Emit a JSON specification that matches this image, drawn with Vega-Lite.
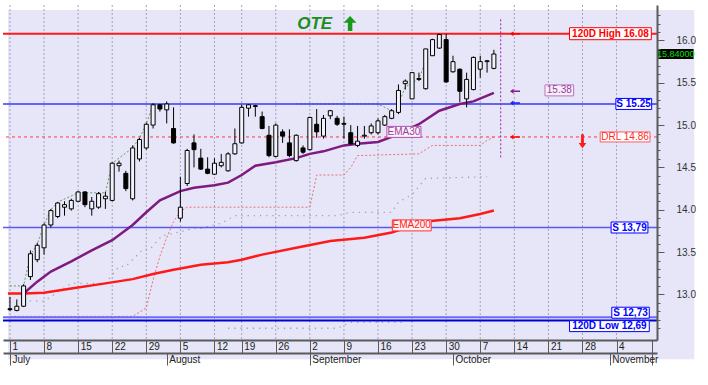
{
"$schema":"https://vega.github.io/schema/vega-lite/v6.json",
"width":654,"height":335,
"autosize":{"type":"none"},
"padding":{"left":3,"top":5,"right":51,"bottom":45},
"background":"#FFFFFF",
"config":{"view":{"stroke":null},"font":"Liberation Sans"},
"resolve":{"axis":{"x":"independent","y":"independent"}},
"datasets":{
"candles":[
{"i":0,"o":12.83,"h":12.97,"l":12.80,"c":12.82},{"i":1,"o":12.81,"h":12.94,"l":12.80,"c":12.86},{"i":2,"o":12.86,"h":13.12,"l":12.85,"c":13.10},{"i":3,"o":13.21,"h":13.52,"l":13.17,"c":13.48},{"i":4,"o":13.41,"h":13.61,"l":13.38,"c":13.58},{"i":5,"o":13.55,"h":13.84,"l":13.47,"c":13.82},{"i":6,"o":13.82,"h":14.01,"l":13.79,"c":13.99},{"i":7,"o":13.92,"h":14.09,"l":13.90,"c":14.08},{"i":8,"o":14.03,"h":14.10,"l":13.93,"c":14.06},{"i":9,"o":14.01,"h":14.13,"l":13.99,"c":14.11},
{"i":10,"o":14.10,"h":14.22,"l":14.09,"c":14.21},{"i":11,"o":14.21,"h":14.22,"l":14.03,"c":14.06},{"i":12,"o":14.01,"h":14.15,"l":13.93,"c":14.10},{"i":13,"o":14.03,"h":14.21,"l":14.01,"c":14.19},{"i":14,"o":14.13,"h":14.21,"l":14.01,"c":14.16},{"i":15,"o":14.11,"h":14.56,"l":14.10,"c":14.55},{"i":16,"o":14.52,"h":14.58,"l":14.45,"c":14.55},{"i":17,"o":14.43,"h":14.46,"l":14.22,"c":14.25},{"i":18,"o":14.13,"h":14.76,"l":14.11,"c":14.73},{"i":19,"o":14.60,"h":14.85,"l":14.57,"c":14.83},
{"i":20,"o":14.73,"h":15.03,"l":14.71,"c":15.01},{"i":21,"o":15.00,"h":15.26,"l":14.96,"c":15.24},{"i":22,"o":15.24,"h":15.25,"l":15.16,"c":15.19},{"i":23,"o":15.18,"h":15.28,"l":15.02,"c":15.25},{"i":24,"o":14.96,"h":15.21,"l":14.78,"c":14.79},{"i":25,"o":13.90,"h":14.39,"l":13.86,"c":14.03},{"i":26,"o":14.31,"h":14.72,"l":14.28,"c":14.70},{"i":27,"o":14.79,"h":14.89,"l":14.50,"c":14.71},{"i":28,"o":14.61,"h":14.72,"l":14.47,"c":14.48},{"i":29,"o":14.48,"h":14.62,"l":14.42,"c":14.43},
{"i":30,"o":14.42,"h":14.61,"l":14.41,"c":14.55},{"i":31,"o":14.52,"h":14.66,"l":14.50,"c":14.56},{"i":32,"o":14.46,"h":14.68,"l":14.45,"c":14.66},{"i":33,"o":14.66,"h":14.96,"l":14.65,"c":14.78},{"i":34,"o":14.79,"h":15.24,"l":14.78,"c":15.21},{"i":35,"o":15.20,"h":15.25,"l":15.10,"c":15.24},{"i":36,"o":15.22,"h":15.24,"l":15.10,"c":15.23},{"i":37,"o":15.10,"h":15.16,"l":14.95,"c":14.96},{"i":38,"o":14.88,"h":14.99,"l":14.62,"c":14.64},{"i":39,"o":14.63,"h":15.02,"l":14.62,"c":15.00},
{"i":40,"o":14.92,"h":14.95,"l":14.79,"c":14.87},{"i":41,"o":14.79,"h":14.95,"l":14.62,"c":14.64},{"i":42,"o":14.58,"h":14.89,"l":14.57,"c":14.88},{"i":43,"o":14.73,"h":14.76,"l":14.66,"c":14.68},{"i":44,"o":14.71,"h":15.10,"l":14.70,"c":15.09},{"i":45,"o":15.01,"h":15.19,"l":14.85,"c":14.92},{"i":46,"o":14.87,"h":15.12,"l":14.84,"c":15.08},{"i":47,"o":15.11,"h":15.18,"l":15.07,"c":15.17},{"i":48,"o":15.08,"h":15.11,"l":14.99,"c":15.01},{"i":49,"o":15.02,"h":15.10,"l":14.84,"c":15.01},
{"i":50,"o":14.91,"h":15.00,"l":14.77,"c":14.78},{"i":51,"o":14.76,"h":14.99,"l":14.74,"c":14.81},{"i":52,"o":14.87,"h":14.99,"l":14.84,"c":14.88},{"i":53,"o":14.91,"h":15.02,"l":14.89,"c":14.99},{"i":54,"o":14.91,"h":15.08,"l":14.89,"c":15.05},{"i":55,"o":15.00,"h":15.12,"l":14.99,"c":15.10},{"i":56,"o":15.08,"h":15.19,"l":15.07,"c":15.17},{"i":57,"o":15.15,"h":15.48,"l":15.13,"c":15.41},{"i":58,"o":15.49,"h":15.54,"l":15.42,"c":15.52},{"i":59,"o":15.31,"h":15.62,"l":15.31,"c":15.62},
{"i":60,"o":15.54,"h":15.62,"l":15.52,"c":15.55},{"i":61,"o":15.43,"h":15.90,"l":15.42,"c":15.90},{"i":62,"o":15.82,"h":16.02,"l":15.82,"c":16.01},{"i":63,"o":15.91,"h":16.08,"l":15.90,"c":16.07},{"i":64,"o":16.01,"h":16.08,"l":15.50,"c":15.51},{"i":65,"o":15.63,"h":15.82,"l":15.62,"c":15.75},{"i":66,"o":15.66,"h":15.67,"l":15.27,"c":15.40},{"i":67,"o":15.31,"h":15.62,"l":15.21,"c":15.54},{"i":68,"o":15.42,"h":15.81,"l":15.41,"c":15.80},{"i":69,"o":15.66,"h":15.82,"l":15.56,"c":15.75},
{"i":70,"o":15.75,"h":15.77,"l":15.62,"c":15.76},{"i":71,"o":15.67,"h":15.89,"l":15.66,"c":15.84}
],
"ema30":[{"i":2,"v":13.01},{"i":4,"v":13.15},{"i":6,"v":13.27},{"i":9,"v":13.39},{"i":12,"v":13.52},{"i":15,"v":13.64},{"i":18,"v":13.82},{"i":20,"v":13.97},{"i":22,"v":14.11},{"i":25,"v":14.22},{"i":27,"v":14.26},{"i":30,"v":14.29},{"i":32,"v":14.32},{"i":34,"v":14.41},{"i":36,"v":14.52},{"i":39,"v":14.56},{"i":42,"v":14.61},{"i":44,"v":14.66},{"i":46,"v":14.69},{"i":49,"v":14.76},{"i":51,"v":14.78},{"i":54,"v":14.80},{"i":56,"v":14.86},{"i":60,"v":15.01},{"i":63,"v":15.17},{"i":66,"v":15.25},{"i":68,"v":15.28},{"i":71,"v":15.38}],
"ema200":[{"i":-0.29,"v":13.01},{"i":2,"v":13.01},{"i":5,"v":13.02},{"i":9,"v":13.07},{"i":14,"v":13.13},{"i":18,"v":13.18},{"i":21,"v":13.24},{"i":24,"v":13.29},{"i":28,"v":13.35},{"i":32,"v":13.38},{"i":34,"v":13.41},{"i":37,"v":13.47},{"i":42,"v":13.55},{"i":47,"v":13.63},{"i":52,"v":13.67},{"i":56,"v":13.73},{"i":61,"v":13.86},{"i":66,"v":13.90},{"i":69,"v":13.95},{"i":71,"v":13.99}],
"trails":[
{"s":"gray","seg":1,"i":2,"v":12.92},{"s":"gray","seg":1,"i":5,"v":12.92},{"s":"gray","seg":1,"i":9,"v":13.13},{"s":"gray","seg":1,"i":14,"v":13.13},{"s":"gray","seg":1,"i":16,"v":13.33},{"s":"gray","seg":1,"i":17,"v":13.33},{"s":"gray","seg":1,"i":19.5,"v":13.53},{"s":"gray","seg":1,"i":20.5,"v":13.53},{"s":"gray","seg":1,"i":22.4,"v":13.70},{"s":"gray","seg":1,"i":23,"v":13.70},{"s":"gray","seg":1,"i":27,"v":13.78},{"s":"gray","seg":1,"i":28,"v":13.78},{"s":"gray","seg":1,"i":31,"v":13.84},{"s":"gray","seg":1,"i":33,"v":13.93},{"s":"gray","seg":1,"i":48,"v":13.93},{"s":"gray","seg":1,"i":50,"v":13.97},{"s":"gray","seg":1,"i":56,"v":13.97},{"s":"gray","seg":1,"i":57,"v":14.09},{"s":"gray","seg":1,"i":59,"v":14.18},{"s":"gray","seg":1,"i":61,"v":14.37},{"s":"gray","seg":1,"i":70,"v":14.39},
{"s":"gray","seg":2,"i":32,"v":12.60},{"s":"gray","seg":2,"i":48,"v":12.60},{"s":"gray","seg":2,"i":50,"v":12.67},{"s":"gray","seg":2,"i":58,"v":12.67},
{"s":"red","seg":1,"i":0,"v":12.74},{"s":"red","seg":1,"i":18,"v":12.74},{"s":"red","seg":1,"i":20,"v":12.84},{"s":"red","seg":1,"i":21,"v":13.17},{"s":"red","seg":1,"i":22,"v":13.45},{"s":"red","seg":1,"i":23,"v":13.67},{"s":"red","seg":1,"i":24,"v":13.86},{"s":"red","seg":1,"i":25,"v":13.98},{"s":"red","seg":1,"i":26,"v":14.03},{"s":"red","seg":1,"i":44,"v":14.03},{"s":"red","seg":1,"i":45,"v":14.41},{"s":"red","seg":1,"i":49,"v":14.41},{"s":"red","seg":1,"i":50,"v":14.50},{"s":"red","seg":1,"i":51,"v":14.64},{"s":"red","seg":1,"i":60,"v":14.66},{"s":"red","seg":1,"i":62,"v":14.76},{"s":"red","seg":1,"i":69,"v":14.76},{"s":"red","seg":1,"i":70,"v":14.82},{"s":"red","seg":1,"i":71,"v":14.86},
{"s":"green","seg":1,"i":0,"v":13.10},{"s":"green","seg":1,"i":2,"v":13.10},{"s":"green","seg":1,"i":3,"v":13.47},{"s":"green","seg":1,"i":4,"v":13.59},{"s":"green","seg":1,"i":5,"v":13.82},{"s":"green","seg":1,"i":6,"v":14.00},{"s":"green","seg":1,"i":7,"v":14.09},{"s":"green","seg":1,"i":10,"v":14.20},{"s":"green","seg":1,"i":14,"v":14.20},{"s":"green","seg":1,"i":15,"v":14.55},{"s":"green","seg":1,"i":18,"v":14.73},{"s":"green","seg":1,"i":19,"v":14.85},{"s":"green","seg":1,"i":20,"v":15.01},{"s":"green","seg":1,"i":21,"v":15.24},{"s":"green","seg":1,"i":23,"v":15.25},
{"s":"green","seg":2,"i":42,"v":15.25},{"s":"green","seg":2,"i":54,"v":15.25},{"s":"green","seg":2,"i":56,"v":15.17},
{"s":"green","seg":3,"i":57,"v":15.25},{"s":"green","seg":3,"i":58,"v":15.45},{"s":"green","seg":3,"i":60,"v":15.55},{"s":"green","seg":3,"i":61,"v":15.75}
],
"weeks":[{"i":0},{"i":5},{"i":10},{"i":15},{"i":20},{"i":25},{"i":30},{"i":34},{"i":39},{"i":44},{"i":49},{"i":54},{"i":59},{"i":64},{"i":69},{"i":74},{"i":79},{"i":84},{"i":89}],
"levels":[{"key":"high","v":16.08,"label":"120D High 16.08"},{"key":"s1","v":15.25,"label":"S 15.25"},{"key":"drl","v":14.86,"label":"DRL 14.86"},{"key":"s2","v":13.79,"label":"S 13,79"},{"key":"s3","v":12.73,"label":"S 12,73"},{"key":"low","v":12.69,"label":"120D Low 12,69"}],
"notes":[{"key":"ema30","text":"EMA30","i":57.8,"v":14.92},{"key":"ema200","text":"EMA200","i":58.95,"v":13.815},{"key":"last30","text":"15.38","i":80.6,"v":15.41},{"key":"ote","text":"OTE","i":44.7,"v":16.2}],
"arrows":[{"k":"up","i":49.9,"v":16.2},{"k":"lhigh","i":74.1,"v":16.08},{"k":"lema","i":74.1,"v":15.4},{"k":"ls","i":74.1,"v":15.26},{"k":"ldrl","i":74.1,"v":14.86},{"k":"down","i":84.0,"v":14.81}],
"cursor":[{"i":72,"top":16.25,"bottom":14.61}],
"last":[{"price":15.84,"text":"15.84000"}]
},
"layer":[
{"data":{"name":"cursor"},"mark":{"type":"rect","fill":"#E6E6F8","clip":false},
 "encoding":{"x":{"datum":-0.29,"type":"quantitative","scale":{"domain":[-0.29,94.2],"nice":false,"zero":false},"axis":null},"x2":{"datum":100.4},"y":{"datum":16.36,"type":"quantitative","scale":{"domain":[12.52,16.36],"nice":false,"zero":false},"axis":null},"y2":{"datum":12.233}}},
{"data":{"name":"weeks"},"mark":{"type":"rule","color":"#A4A4B8","strokeDash":[2,2],"strokeWidth":1},
 "encoding":{"x":{"field":"i","type":"quantitative","scale":{"domain":[-0.29,94.2],"nice":false,"zero":false},"axis":null}}},
{"data":{"name":"trails"},"layer":[
 {"transform":[{"filter":"datum.s==='gray'"}],"mark":{"type":"line","color":"#9C9CB8","strokeDash":[1.2,5],"strokeWidth":1.3},
  "encoding":{"x":{"field":"i","type":"quantitative","scale":{"domain":[-0.29,94.2],"nice":false,"zero":false},"axis":null},"y":{"field":"v","type":"quantitative","scale":{"domain":[12.52,16.36],"nice":false,"zero":false},"axis":null},"detail":{"field":"seg"}}},
 {"transform":[{"filter":"datum.s==='red'"}],"mark":{"type":"line","color":"#EE6E6E","strokeDash":[2,2],"strokeWidth":1},
  "encoding":{"x":{"field":"i","type":"quantitative","scale":{"domain":[-0.29,94.2],"nice":false,"zero":false},"axis":null},"y":{"field":"v","type":"quantitative","scale":{"domain":[12.52,16.36],"nice":false,"zero":false},"axis":null},"detail":{"field":"seg"}}},
 {"transform":[{"filter":"datum.s==='green'"}],"mark":{"type":"line","color":"#5E9E5E","strokeDash":[2,2],"strokeWidth":1},
  "encoding":{"x":{"field":"i","type":"quantitative","scale":{"domain":[-0.29,94.2],"nice":false,"zero":false},"axis":null},"y":{"field":"v","type":"quantitative","scale":{"domain":[12.52,16.36],"nice":false,"zero":false},"axis":null},"detail":{"field":"seg"}}}
]},
{"data":{"name":"levels"},"layer":[
 {"transform":[{"filter":"datum.key==='high'"}],"mark":{"type":"rule","color":"#FF1A1A","strokeWidth":2},"encoding":{"y":{"field":"v","type":"quantitative","scale":{"domain":[12.52,16.36],"nice":false,"zero":false},"axis":null}}},
 {"transform":[{"filter":"datum.key==='s1'"}],"mark":{"type":"rule","color":"#3A3AF0","strokeWidth":1.5},"encoding":{"y":{"field":"v","type":"quantitative","scale":{"domain":[12.52,16.36],"nice":false,"zero":false},"axis":null}}},
 {"transform":[{"filter":"datum.key==='drl'"}],"mark":{"type":"rule","color":"#FF3B3B","strokeWidth":1,"strokeDash":[3,3]},"encoding":{"y":{"field":"v","type":"quantitative","scale":{"domain":[12.52,16.36],"nice":false,"zero":false},"axis":null}}},
 {"transform":[{"filter":"datum.key==='s2'"}],"mark":{"type":"rule","color":"#5A5AF0","strokeWidth":1.5},"encoding":{"y":{"field":"v","type":"quantitative","scale":{"domain":[12.52,16.36],"nice":false,"zero":false},"axis":null}}},
 {"transform":[{"filter":"datum.key==='s3'"}],"mark":{"type":"rule","color":"#6A6AFF","strokeWidth":2},"encoding":{"y":{"field":"v","type":"quantitative","scale":{"domain":[12.52,16.36],"nice":false,"zero":false},"axis":null}}},
 {"transform":[{"filter":"datum.key==='low'"}],"mark":{"type":"rule","color":"#0000CC","strokeWidth":2},"encoding":{"y":{"field":"v","type":"quantitative","scale":{"domain":[12.52,16.36],"nice":false,"zero":false},"axis":null}}}
]},
{"data":{"name":"ema200"},"mark":{"type":"line","color":"#FF1A1A","strokeWidth":2.5},
 "encoding":{"x":{"field":"i","type":"quantitative","scale":{"domain":[-0.29,94.2],"nice":false,"zero":false},
  "axis":{"orient":"bottom","offset":13,"values":[0,23,44,65,88,94.2],"labelExpr":"['July','August','September','October','November',''][indexof([0,23,44,65,88,94.2],datum.value)]","title":null,"grid":false,"domainColor":"#5A5A5A","domainWidth":2,"tickColor":"#5A5A5A","tickWidth":1,"tickSize":12,"labelAlign":"left","labelBaseline":"top","labelPadding":-11,"labelOffset":2,"labelFont":"Liberation Sans","labelFontSize":10,"labelColor":"#222222","labelFlush":false,"labelOverlap":false,"labelBound":false,"zindex":1}},
  "y":{"field":"v","type":"quantitative","scale":{"domain":[12.52,16.36],"nice":false,"zero":false},"axis":null}}},
{"data":{"name":"ema30"},"mark":{"type":"line","color":"#7E1A80","strokeWidth":2.5},
 "encoding":{"x":{"field":"i","type":"quantitative","scale":{"domain":[-0.29,94.2],"nice":false,"zero":false},"axis":null},"y":{"field":"v","type":"quantitative","scale":{"domain":[12.52,16.36],"nice":false,"zero":false},"axis":null}}},
{"data":{"name":"cursor"},"mark":{"type":"rule","color":"#A020A0","strokeDash":[2,2],"strokeWidth":1},
 "encoding":{"x":{"field":"i","type":"quantitative","scale":{"domain":[-0.29,94.2],"nice":false,"zero":false},"axis":null},"y":{"field":"top","type":"quantitative","scale":{"domain":[12.52,16.36],"nice":false,"zero":false},"axis":null},"y2":{"field":"bottom"}}},
{"data":{"name":"candles"},"mark":{"type":"rule","color":"#000000","strokeWidth":1},
 "encoding":{"x":{"field":"i","type":"quantitative","scale":{"domain":[-0.29,94.2],"nice":false,"zero":false},"axis":null},"y":{"field":"l","type":"quantitative","scale":{"domain":[12.52,16.36],"nice":false,"zero":false},"axis":null},"y2":{"field":"h"}}},
{"data":{"name":"candles"},"mark":{"type":"bar","size":4,"stroke":"#000000","strokeWidth":1},
 "encoding":{"x":{"field":"i","type":"quantitative","scale":{"domain":[-0.29,94.2],"nice":false,"zero":false},
  "axis":{"orient":"bottom","values":[0,5,10,15,20,25,30,34,39,44,49,54,59,64,69,74,79,84,89,94.2],"labelExpr":"['1','8','15','22','29','5','12','19','26','2','9','16','23','30','7','14','21','28','4',''][indexof([0,5,10,15,20,25,30,34,39,44,49,54,59,64,69,74,79,84,89,94.2],datum.value)]","title":null,"grid":false,"domainColor":"#5A5A5A","domainWidth":2,"tickColor":"#5A5A5A","tickWidth":1,"tickSize":13,"labelAlign":"left","labelBaseline":"top","labelPadding":-12,"labelOffset":2,"labelFont":"Liberation Sans","labelFontSize":10,"labelColor":"#222222","labelFlush":false,"labelOverlap":false,"labelBound":false,"zindex":1}},
  "y":{"field":"o","type":"quantitative","scale":{"domain":[12.52,16.36],"nice":false,"zero":false},
  "axis":{"orient":"right","values":[12.6,12.7,12.8,12.9,13,13.1,13.2,13.3,13.4,13.5,13.6,13.7,13.8,13.9,14,14.1,14.2,14.3,14.4,14.5,14.6,14.7,14.8,14.9,15,15.1,15.2,15.3,15.4,15.5,15.6,15.7,15.8,15.9,16,16.1,16.2,16.3],"labelExpr":"abs(datum.value*2-round(datum.value*2))<0.01 ? format(datum.value,'.1f') : ''","title":null,"grid":false,"domainColor":"#5A5A5A","domainWidth":2,"tickColor":"#5A5A5A","tickWidth":1,"tickSize":{"condition":{"test":"abs(datum.value*2-round(datum.value*2))<0.01","value":7},"value":3},"labelPadding":12,"labelFont":"Liberation Sans","labelFontSize":10,"labelColor":"#333333","labelOverlap":false,"labelFlush":false,"zindex":1}},
  "y2":{"field":"c"},
  "fill":{"condition":{"test":"datum.c>=datum.o","value":"#F2F2FC"},"value":"#000000"}}},
{"data":{"name":"levels"},"layer":[
 {"transform":[{"filter":"datum.key==='high'"}],"layer":[
  {"mark":{"type":"bar","size":12,"fill":"#FFFFFF","stroke":"#FF0000","strokeWidth":1,"clip":false},"encoding":{"x":{"datum":82.1,"type":"quantitative","scale":{"domain":[-0.29,94.2],"nice":false,"zero":false},"axis":null},"x2":{"datum":94.1},"y":{"field":"v","type":"quantitative","scale":{"domain":[12.52,16.36],"nice":false,"zero":false},"axis":null}}},
  {"mark":{"type":"text","font":"Liberation Sans","fontSize":10,"fontWeight":"bold","color":"#FF0000","align":"center","baseline":"middle"},"encoding":{"x":{"datum":88.1,"type":"quantitative","scale":{"domain":[-0.29,94.2],"nice":false,"zero":false},"axis":null},"y":{"field":"v","type":"quantitative","scale":{"domain":[12.52,16.36],"nice":false,"zero":false},"axis":null},"text":{"field":"label"}}}]},
 {"transform":[{"filter":"datum.key==='s1'"}],"layer":[
  {"mark":{"type":"bar","size":11,"fill":"#FFFFFF","stroke":"#0000FF","strokeWidth":1,"clip":false},"encoding":{"x":{"datum":88.9,"type":"quantitative","scale":{"domain":[-0.29,94.2],"nice":false,"zero":false},"axis":null},"x2":{"datum":94.15},"y":{"field":"v","type":"quantitative","scale":{"domain":[12.52,16.36],"nice":false,"zero":false},"axis":null}}},
  {"mark":{"type":"text","font":"Liberation Sans","fontSize":10,"fontWeight":"bold","color":"#0000FF","align":"center","baseline":"middle"},"encoding":{"x":{"datum":91.5,"type":"quantitative","scale":{"domain":[-0.29,94.2],"nice":false,"zero":false},"axis":null},"y":{"field":"v","type":"quantitative","scale":{"domain":[12.52,16.36],"nice":false,"zero":false},"axis":null},"text":{"field":"label"}}}]},
 {"transform":[{"filter":"datum.key==='drl'"}],"layer":[
  {"mark":{"type":"bar","size":10,"fill":"#FFFFFF","stroke":"#FF5A5A","strokeWidth":1,"clip":false},"encoding":{"x":{"datum":86.6,"type":"quantitative","scale":{"domain":[-0.29,94.2],"nice":false,"zero":false},"axis":null},"x2":{"datum":93.9},"y":{"field":"v","type":"quantitative","scale":{"domain":[12.52,16.36],"nice":false,"zero":false},"axis":null}}},
  {"mark":{"type":"text","font":"Liberation Sans","fontSize":10,"color":"#FF2A2A","align":"center","baseline":"middle"},"encoding":{"x":{"datum":90.25,"type":"quantitative","scale":{"domain":[-0.29,94.2],"nice":false,"zero":false},"axis":null},"y":{"field":"v","type":"quantitative","scale":{"domain":[12.52,16.36],"nice":false,"zero":false},"axis":null},"text":{"field":"label"}}}]},
 {"transform":[{"filter":"datum.key==='s2'"}],"layer":[
  {"mark":{"type":"bar","size":11,"fill":"#FFFFFF","stroke":"#0000FF","strokeWidth":1,"clip":false},"encoding":{"x":{"datum":88.2,"type":"quantitative","scale":{"domain":[-0.29,94.2],"nice":false,"zero":false},"axis":null},"x2":{"datum":93.6},"y":{"field":"v","type":"quantitative","scale":{"domain":[12.52,16.36],"nice":false,"zero":false},"axis":null}}},
  {"mark":{"type":"text","font":"Liberation Sans","fontSize":10,"fontWeight":"bold","color":"#0000FF","align":"center","baseline":"middle"},"encoding":{"x":{"datum":90.9,"type":"quantitative","scale":{"domain":[-0.29,94.2],"nice":false,"zero":false},"axis":null},"y":{"field":"v","type":"quantitative","scale":{"domain":[12.52,16.36],"nice":false,"zero":false},"axis":null},"text":{"field":"label"}}}]},
 {"transform":[{"filter":"datum.key==='s3'"}],"layer":[
  {"mark":{"type":"bar","size":11,"fill":"#FFFFFF","stroke":"#0000FF","strokeWidth":1,"clip":false,"yOffset":-4.5},"encoding":{"x":{"datum":88.3,"type":"quantitative","scale":{"domain":[-0.29,94.2],"nice":false,"zero":false},"axis":null},"x2":{"datum":93.8},"y":{"field":"v","type":"quantitative","scale":{"domain":[12.52,16.36],"nice":false,"zero":false},"axis":null}}},
  {"mark":{"type":"text","font":"Liberation Sans","fontSize":10,"fontWeight":"bold","color":"#0000FF","align":"center","baseline":"middle","dy":-4.5},"encoding":{"x":{"datum":91.05,"type":"quantitative","scale":{"domain":[-0.29,94.2],"nice":false,"zero":false},"axis":null},"y":{"field":"v","type":"quantitative","scale":{"domain":[12.52,16.36],"nice":false,"zero":false},"axis":null},"text":{"field":"label"}}}]},
 {"transform":[{"filter":"datum.key==='low'"}],"layer":[
  {"mark":{"type":"bar","size":11,"fill":"#FFFFFF","stroke":"#0000FF","strokeWidth":1,"clip":false,"yOffset":5.5},"encoding":{"x":{"datum":82.1,"type":"quantitative","scale":{"domain":[-0.29,94.2],"nice":false,"zero":false},"axis":null},"x2":{"datum":93.8},"y":{"field":"v","type":"quantitative","scale":{"domain":[12.52,16.36],"nice":false,"zero":false},"axis":null}}},
  {"mark":{"type":"text","font":"Liberation Sans","fontSize":10,"fontWeight":"bold","color":"#0000FF","align":"center","baseline":"middle","dy":5.5},"encoding":{"x":{"datum":87.95,"type":"quantitative","scale":{"domain":[-0.29,94.2],"nice":false,"zero":false},"axis":null},"y":{"field":"v","type":"quantitative","scale":{"domain":[12.52,16.36],"nice":false,"zero":false},"axis":null},"text":{"field":"label"}}}]}
]},
{"data":{"name":"notes"},"layer":[
 {"transform":[{"filter":"datum.key==='ema30'"}],"layer":[
  {"mark":{"type":"bar","size":11,"fill":"#FAF4FA","stroke":"#B050B0","strokeWidth":1},"encoding":{"x":{"datum":55.3,"type":"quantitative","scale":{"domain":[-0.29,94.2],"nice":false,"zero":false},"axis":null},"x2":{"datum":60.3},"y":{"field":"v","type":"quantitative","scale":{"domain":[12.52,16.36],"nice":false,"zero":false},"axis":null}}},
  {"mark":{"type":"text","font":"Liberation Sans","fontSize":10,"color":"#A03AA0","align":"center","baseline":"middle"},"encoding":{"x":{"field":"i","type":"quantitative","scale":{"domain":[-0.29,94.2],"nice":false,"zero":false},"axis":null},"y":{"field":"v","type":"quantitative","scale":{"domain":[12.52,16.36],"nice":false,"zero":false},"axis":null},"text":{"field":"text"}}}]},
 {"transform":[{"filter":"datum.key==='ema200'"}],"layer":[
  {"mark":{"type":"bar","size":11,"fill":"#FFF4F4","stroke":"#FF3030","strokeWidth":1},"encoding":{"x":{"datum":56.1,"type":"quantitative","scale":{"domain":[-0.29,94.2],"nice":false,"zero":false},"axis":null},"x2":{"datum":61.8},"y":{"field":"v","type":"quantitative","scale":{"domain":[12.52,16.36],"nice":false,"zero":false},"axis":null}}},
  {"mark":{"type":"text","font":"Liberation Sans","fontSize":10,"color":"#FF2020","align":"center","baseline":"middle"},"encoding":{"x":{"field":"i","type":"quantitative","scale":{"domain":[-0.29,94.2],"nice":false,"zero":false},"axis":null},"y":{"field":"v","type":"quantitative","scale":{"domain":[12.52,16.36],"nice":false,"zero":false},"axis":null},"text":{"field":"text"}}}]},
 {"transform":[{"filter":"datum.key==='last30'"}],"layer":[
  {"mark":{"type":"bar","size":11,"fill":"#F6F0F8","stroke":"#C070C0","strokeWidth":1},"encoding":{"x":{"datum":78.5,"type":"quantitative","scale":{"domain":[-0.29,94.2],"nice":false,"zero":false},"axis":null},"x2":{"datum":82.7},"y":{"field":"v","type":"quantitative","scale":{"domain":[12.52,16.36],"nice":false,"zero":false},"axis":null}}},
  {"mark":{"type":"text","font":"Liberation Sans","fontSize":10,"color":"#9A3A9A","align":"center","baseline":"middle"},"encoding":{"x":{"field":"i","type":"quantitative","scale":{"domain":[-0.29,94.2],"nice":false,"zero":false},"axis":null},"y":{"field":"v","type":"quantitative","scale":{"domain":[12.52,16.36],"nice":false,"zero":false},"axis":null},"text":{"field":"text"}}}]},
 {"transform":[{"filter":"datum.key==='ote'"}],"mark":{"type":"text","font":"Liberation Sans","fontSize":17,"fontWeight":"bold","fontStyle":"italic","color":"#1A8F1A","align":"center","baseline":"middle"},
  "encoding":{"x":{"field":"i","type":"quantitative","scale":{"domain":[-0.29,94.2],"nice":false,"zero":false},"axis":null},"y":{"field":"v","type":"quantitative","scale":{"domain":[12.52,16.36],"nice":false,"zero":false},"axis":null},"text":{"field":"text"}}}
]},
{"data":{"name":"arrows"},"layer":[
 {"transform":[{"filter":"datum.k==='up'"}],"mark":{"type":"point","filled":true,"opacity":1,"color":"#1A9A1A","size":225,"shape":"M0,-1L0.85,-0.1L0.3,-0.1L0.3,1L-0.3,1L-0.3,-0.1L-0.85,-0.1Z"},
  "encoding":{"x":{"field":"i","type":"quantitative","scale":{"domain":[-0.29,94.2],"nice":false,"zero":false},"axis":null},"y":{"field":"v","type":"quantitative","scale":{"domain":[12.52,16.36],"nice":false,"zero":false},"axis":null}}},
 {"transform":[{"filter":"datum.k==='down'"}],"mark":{"type":"point","filled":true,"opacity":1,"color":"#FF1A1A","size":196,"shape":"M0,1L-0.55,0.25L-0.2,0.25L-0.2,-1L0.2,-1L0.2,0.25L0.55,0.25Z"},
  "encoding":{"x":{"field":"i","type":"quantitative","scale":{"domain":[-0.29,94.2],"nice":false,"zero":false},"axis":null},"y":{"field":"v","type":"quantitative","scale":{"domain":[12.52,16.36],"nice":false,"zero":false},"axis":null}}},
 {"transform":[{"filter":"indexof(['lhigh','lema','ls','ldrl'],datum.k)>=0"}],"mark":{"type":"point","filled":true,"opacity":1,"size":100,"shape":"M-1,0L-0.3,-0.5L-0.3,-0.15L1,-0.15L1,0.15L-0.3,0.15L-0.3,0.5Z"},
  "encoding":{"x":{"field":"i","type":"quantitative","scale":{"domain":[-0.29,94.2],"nice":false,"zero":false},"axis":null},"y":{"field":"v","type":"quantitative","scale":{"domain":[12.52,16.36],"nice":false,"zero":false},"axis":null},
  "color":{"field":"k","type":"nominal","scale":{"domain":["lhigh","lema","ls","ldrl"],"range":["#FF0000","#8B1A8B","#1E1EFF","#FF0000"]},"legend":null}}}
]},
{"data":{"name":"last"},"layer":[
 {"mark":{"type":"bar","size":10,"fill":"#000000","clip":false},"encoding":{"x":{"datum":95.1,"type":"quantitative","scale":{"domain":[-0.29,94.2],"nice":false,"zero":false},"axis":null},"x2":{"datum":100.3},"y":{"field":"price","type":"quantitative","scale":{"domain":[12.52,16.36],"nice":false,"zero":false},"axis":null}}},
 {"mark":{"type":"text","font":"Liberation Sans","fontSize":9,"color":"#00E000","align":"center","baseline":"middle"},"encoding":{"x":{"datum":97.7,"type":"quantitative","scale":{"domain":[-0.29,94.2],"nice":false,"zero":false},"axis":null},"y":{"field":"price","type":"quantitative","scale":{"domain":[12.52,16.36],"nice":false,"zero":false},"axis":null},"text":{"field":"text"}}}
]}
]
}
